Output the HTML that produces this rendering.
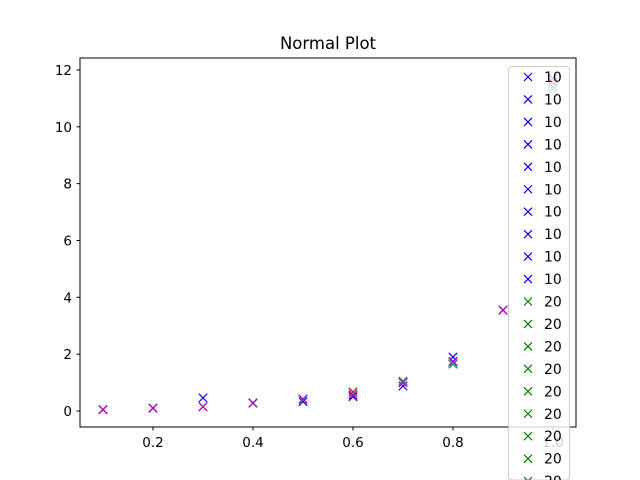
<!DOCTYPE html>
<html><head><meta charset="utf-8"><style>
html,body{margin:0;padding:0;background:#fff;overflow:hidden;width:640px;height:480px;}
svg{display:block;font-family:"DejaVu Sans","Liberation Sans",sans-serif;}
</style></head><body>
<svg id="chart" width="640" height="480" viewBox="0 0 640 480" xmlns="http://www.w3.org/2000/svg" overflow="hidden">
<rect width="640" height="480" fill="#fff"/>
<text x="328" y="49" font-size="16.5" text-anchor="middle">Normal Plot</text>
<g id="marks"></g>
<rect x="80" y="58" width="496" height="369" fill="none" stroke="#000" stroke-width="1"/>
<g id="ticks"></g>
<g id="legend"></g>
</svg>
<script>
const xValues = [0.1,0.2,0.3,0.4,0.5,0.6,0.7,0.8,0.9,1.0];
const seriesLabels = ["10","20","30","40","50"];
const seriesColors = ["#0000ff","#008000","#ff0000","#00bfbf","#bf00bf"];
const seriesBlue = [0.05,0.1,0.46,0.28,0.33,0.5,0.88,1.9,3.55,11.7];
const seriesGreen = [0.05,0.1,0.15,0.28,0.42,0.67,1.05,1.65,3.55,11.4];
const seriesRed = [0.05,0.1,0.15,0.28,0.42,0.67,1.0,1.72,3.55,11.55];
const seriesCyan = [0.05,0.1,0.15,0.28,0.4,0.6,1.02,1.68,3.55,11.3];
const seriesMagenta = [0.05,0.1,0.15,0.28,0.42,0.56,1.0,1.75,3.55,11.6];
const xTicks = [0.2,0.4,0.6,0.8,1.0];
const xTickLabels = ["0.2","0.4","0.6","0.8","1.0"];
const yTicks = [0,2,4,6,8,10,12];
const yTickLabels = ["0","2","4","6","8","10","12"];

const NS="http://www.w3.org/2000/svg";
const xs = v => 53 + v*500;
const ys = v => 411 - v*28.42;
function mk(tag, attrs, parent){const e=document.createElementNS(NS,tag);for(const k in attrs)e.setAttribute(k,attrs[k]);parent.appendChild(e);return e;}
function cross(g,cx,cy,c,s){
  mk("path",{d:`M${cx-s},${cy-s}L${cx+s},${cy+s}M${cx-s},${cy+s}L${cx+s},${cy-s}`,stroke:c,"stroke-width":1.2,fill:"none"},g);
}
const allSeries=[seriesBlue,seriesGreen,seriesRed,seriesCyan,seriesMagenta];
const marks=document.getElementById("marks");
allSeries.forEach((ser,si)=>{
  const g=mk("g",{},marks);
  
  
  ser.forEach((v,i)=>{
    const p=mk("g",{},g);
    
    
    cross(p,xs(xValues[i]),ys(v),seriesColors[si],4.2);
  });
});
const ticks=document.getElementById("ticks");
xTicks.forEach((t,i)=>{
  const x=xs(t);
  const l=mk("line",{x1:x,x2:x,y1:427,y2:430.5,stroke:"#000"},ticks);
  
  
  const tx=mk("text",{x:x,y:447,"font-size":13.5,"text-anchor":"middle"},ticks);
  tx.textContent=xTickLabels[i];
  
  
});
yTicks.forEach((t,i)=>{
  const y=ys(t);
  const l=mk("line",{x1:76.5,x2:80,y1:y,y2:y,stroke:"#000"},ticks);
  
  
  const tx=mk("text",{x:72,y:y+5,"font-size":13.5,"text-anchor":"end"},ticks);
  tx.textContent=yTickLabels[i];
  
  
});
const leg=document.getElementById("legend");


mk("rect",{x:508.5,y:66.5,width:61,height:413.5,rx:3,fill:"#fff","fill-opacity":0.8,stroke:"#cccccc"},leg);
let k=0;
seriesLabels.forEach((lab,si)=>{
  for(let j=0;j<10;j++){
    const y=77+k*22.45;
    k++;
    if(y>488) continue;
    const e=mk("g",{},leg);
    
    
    cross(e,528,y,seriesColors[si],4);
    const t=mk("text",{x:544,y:y+5,"font-size":14},e);
    t.textContent=lab;
  }
});
</script>
</body></html>
